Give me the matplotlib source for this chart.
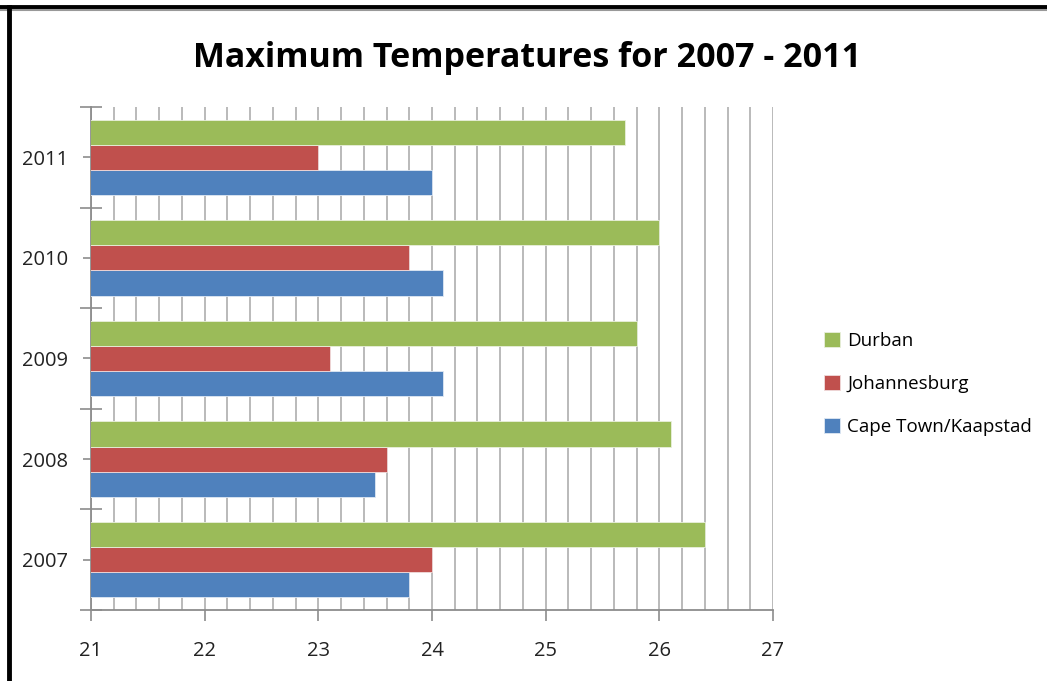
import numpy as np
import matplotlib.pyplot as plt
from matplotlib.lines import Line2D
from matplotlib.ticker import MultipleLocator

# 数据：2007-2011 各城市最高气温
years = ['2007', '2008', '2009', '2010', '2011']
cape_town = [23.8, 23.5, 24.1, 24.1, 24.0]
johannesburg = [24.0, 23.6, 23.1, 23.8, 23.0]
durban = [26.4, 26.1, 25.8, 26.0, 25.7]

c_cape = '#4F81BD'
c_jhb = '#C0504D'
c_dbn = '#9BBB59'
grid_c = '#B4B4B4'
axis_c = '#8C8C8C'

plt.rcParams['font.family'] = ['Open Sans', 'DejaVu Sans']

fig = plt.figure(figsize=(10.47, 6.81), dpi=100)
ax = fig.add_axes([91 / 1047, 1 - 610 / 681, (773 - 91) / 1047, (610 - 107) / 681])

y = np.arange(len(years))
h = 0.25
ax.barh(y - h, cape_town, height=h, color=c_cape, edgecolor='#dfe8f3', lw=0.6,
        label='Cape Town/Kaapstad', zorder=3)
ax.barh(y, johannesburg, height=h, color=c_jhb, edgecolor='#f0dcdc', lw=0.6,
        label='Johannesburg', zorder=3)
ax.barh(y + h, durban, height=h, color=c_dbn, edgecolor='#e9f0dd', lw=0.6,
        label='Durban', zorder=3)

ax.set_xlim(21, 27)
ax.set_ylim(-0.5, 4.5)

# 竖向网格线，每 0.2 一条
ax.xaxis.set_major_locator(MultipleLocator(1))
ax.xaxis.set_minor_locator(MultipleLocator(0.2))
ax.grid(axis='x', which='both', color=grid_c, lw=1.3, zorder=1)

ax.set_yticks(y)
ax.set_yticklabels(years)
ax.set_yticks(np.arange(-0.5, 5, 1), minor=True)

for s in ['top', 'right']:
    ax.spines[s].set_visible(False)
for s in ['left', 'bottom']:
    ax.spines[s].set_color(axis_c)
    ax.spines[s].set_linewidth(1.3)

ax.tick_params(axis='x', which='major', direction='out', length=8, width=1.2,
               color=axis_c, labelsize=14.5, pad=14, labelcolor='#222222')
ax.tick_params(axis='x', which='minor', length=0)
ax.tick_params(axis='y', which='major', direction='inout', length=11, width=1.2,
               color=axis_c, labelsize=14.5, pad=11, labelcolor='#222222')
ax.tick_params(axis='y', which='minor', direction='inout', length=16, width=1.2,
               color=axis_c)

fig.text(527 / 1047, 1 - 58 / 681, 'Maximum Temperatures for 2007 - 2011',
         ha='center', va='center', fontsize=24.5, fontweight='bold', family='Open Sans')

handles, labels = ax.get_legend_handles_labels()
leg = fig.legend(handles[::-1], labels[::-1], loc='center left',
                 bbox_to_anchor=(807 / 1047, 1 - 384 / 681), frameon=False,
                 fontsize=13.5, handlelength=0.85, handleheight=0.85, handletextpad=0.4,
                 labelspacing=1.35)

# 外框：左侧和顶部的黑边
fig.add_artist(Line2D([0, 1], [1 - 7 / 681] * 2, color='black', lw=3.5,
                      transform=fig.transFigure))
fig.add_artist(Line2D([0, 1], [1 - 10 / 681] * 2, color='#999999', lw=1.5,
                      transform=fig.transFigure))
fig.add_artist(Line2D([8.5 / 1047] * 2, [0, 1 - 7 / 681], color='black', lw=3.5,
                      transform=fig.transFigure))

plt.savefig('out.png', dpi=100)
